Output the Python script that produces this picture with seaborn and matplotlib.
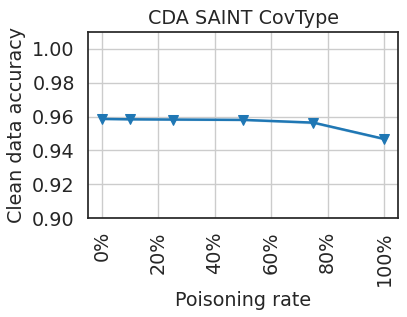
import matplotlib
matplotlib.use("Agg")
import matplotlib.pyplot as plt
import matplotlib.ticker as mtick
import seaborn as sns
import pandas as pd

# poisoning rates (%) and clean data accuracy over three runs
rates = [0, 10, 25, 50, 75, 100]
run1 = [0.9588, 0.9584, 0.9583, 0.9582, 0.9568, 0.9472]
run2 = [0.9584, 0.9582, 0.9580, 0.9578, 0.9560, 0.9464]
run3 = [0.9586, 0.9585, 0.9584, 0.9581, 0.9564, 0.9468]

df = pd.DataFrame({
    'rate': rates * 3,
    'acc': run1 + run2 + run3,
})

sns.set_theme(style="whitegrid", font_scale=1.25)
plt.rcParams['axes.edgecolor'] = '.15'
plt.rcParams['axes.labelsize'] = 13.75
plt.rcParams['axes.titlesize'] = 13.75

fig, ax = plt.subplots(figsize=(4.07, 3.17), dpi=100)
sns.lineplot(ax=ax, data=df, x='rate', y='acc', marker='v', markersize=7,
             linewidth=1.8, markeredgecolor='#1f77b4', color='#1f77b4',
             errorbar='sd')
ax.set_ylim(0.90, 1.01)
ax.set_yticks([0.90, 0.92, 0.94, 0.96, 0.98, 1.00])
ax.yaxis.set_major_formatter(mtick.FormatStrFormatter('%.2f'))
ax.set_xticks([0, 20, 40, 60, 80, 100])
ax.xaxis.set_major_formatter(mtick.FuncFormatter(lambda v, p: f'{int(v)}%'))
plt.setp(ax.get_xticklabels(), rotation=90)
ax.set_title('CDA SAINT CovType')
ax.set_xlabel('Poisoning rate')
ax.set_ylabel('Clean data accuracy')
fig.subplots_adjust(left=88/407, right=398/407, top=1-32/317, bottom=1-218/317)
plt.savefig('out.png')
